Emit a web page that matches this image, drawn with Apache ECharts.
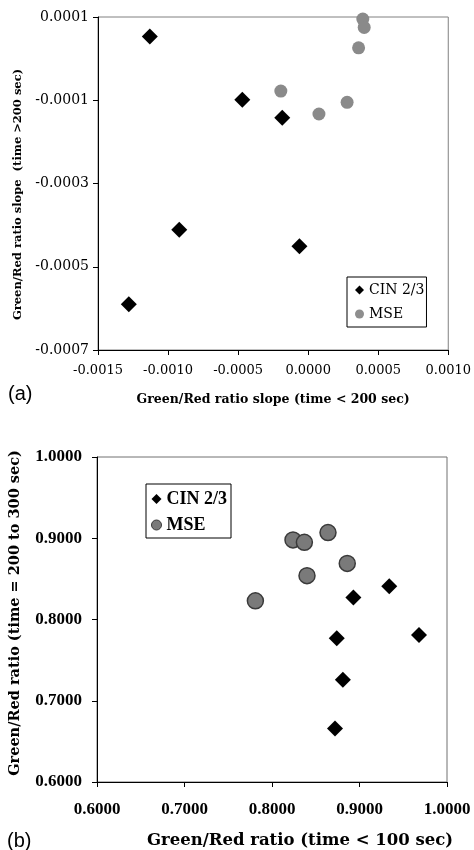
<!DOCTYPE html>
<html>
<head>
<meta charset="utf-8">
<script src="https://cdn.jsdelivr.net/npm/echarts@6/dist/echarts.min.js"></script>
<style>
  html, body { margin: 0; padding: 0; background: #fff; }
  #main { width: 474px; height: 850px; }
</style>
</head>
<body>
<div id="main"></div>
<script>
// panel (a): slopes
const cinA_x = [-0.00113, -0.00047, -0.000185, -0.00092, -0.000062, -0.00128];
const cinA_y = [0.000053, -0.000099, -0.000142, -0.000411, -0.000451, -0.00059];
const mseA_x = [0.00039, 0.0004, 0.00036, -0.000195, 0.000077, 0.000278];
const mseA_y = [0.000095, 0.000075, 0.000026, -0.000078, -0.000133, -0.000105];
const ticksA_x = [-0.0015, -0.0010, -0.0005, 0.0000, 0.0005, 0.0010];
const ticksA_y = [-0.0007, -0.0005, -0.0003, -0.0001, 0.0001];

// panel (b): ratios
const cinB_x = [0.934, 0.893, 0.874, 0.968, 0.881, 0.872];
const cinB_y = [0.841, 0.827, 0.777, 0.781, 0.726, 0.666];
const mseB_x = [0.781, 0.824, 0.837, 0.864, 0.886, 0.840];
const mseB_y = [0.823, 0.898, 0.895, 0.907, 0.869, 0.854];
const ticksB_x = [0.6, 0.7, 0.8, 0.9, 1.0];
const ticksB_y = [0.6, 0.7, 0.8, 0.9, 1.0];

const zip = (xs, ys) => xs.map((x, i) => [x, ys[i]]);
const fmt4 = v => Number(v).toFixed(4);

const chart = echarts.init(document.getElementById('main'), null, { renderer: 'canvas' });

const axisBase = {
  type: 'value',
  nameLocation: 'middle',
  splitLine: { show: false },
  axisLine: { onZero: false, lineStyle: { color: '#000', width: 1 } },
  axisTick: { length: 5, lineStyle: { color: '#000' } }
};

const option = {
  backgroundColor: '#fff',
  animation: false,
  grid: [
    { left: 98, top: 17, width: 353, height: 333, show: true, borderColor: '#808080', borderWidth: 1 },
    { left: 97, top: 457, width: 350, height: 326, show: true, borderColor: '#707070', borderWidth: 1 }
  ],
  xAxis: [
    {
      ...axisBase, gridIndex: 0, min: -0.0015, max: 0.0010,
      name: 'Green/Red ratio slope (time < 200 sec)', nameGap: 43,
      nameTextStyle: { fontFamily: 'DejaVu Serif', fontWeight: 'bold', fontSize: 12.5, color: '#000' },
      axisTick: { ...axisBase.axisTick, customValues: ticksA_x },
      axisLabel: { customValues: ticksA_x, formatter: fmt4, margin: 14, fontFamily: 'DejaVu Serif', fontSize: 13, color: '#000' }
    },
    {
      ...axisBase, gridIndex: 1, min: 0.6, max: 1.0,
      name: 'Green/Red ratio (time < 100 sec)', nameGap: 50,
      nameTextStyle: { fontFamily: 'DejaVu Serif', fontWeight: 'bold', fontSize: 16.5, color: '#000', padding: [0, 0, 0, 56] },
      axisTick: { ...axisBase.axisTick, customValues: ticksB_x },
      axisLabel: { customValues: ticksB_x, formatter: fmt4, margin: 19, fontFamily: 'Liberation Serif', fontWeight: 'bold', fontSize: 17, color: '#000' }
    }
  ],
  yAxis: [
    {
      ...axisBase, gridIndex: 0, min: -0.0007, max: 0.0001,
      name: 'Green/Red ratio slope  (time >200 sec)', nameGap: 74,
      nameTextStyle: { fontFamily: 'DejaVu Serif', fontWeight: 'bold', fontSize: 11.5, color: '#000', padding: [0, 22, 0, 0] },
      axisTick: { ...axisBase.axisTick, customValues: ticksA_y },
      axisLabel: { customValues: ticksA_y, formatter: fmt4, margin: 9, fontFamily: 'DejaVu Serif', fontSize: 14, color: '#000' }
    },
    {
      ...axisBase, gridIndex: 1, min: 0.6, max: 1.0,
      name: 'Green/Red ratio (time = 200 to 300 sec)', nameGap: 74,
      nameTextStyle: { fontFamily: 'DejaVu Serif', fontWeight: 'bold', fontSize: 14.5, color: '#000', padding: [0, 0, 0, 13] },
      axisTick: { ...axisBase.axisTick, customValues: ticksB_y },
      axisLabel: { customValues: ticksB_y, formatter: fmt4, margin: 15, fontFamily: 'Liberation Serif', fontWeight: 'bold', fontSize: 17, color: '#000' }
    }
  ],
  legend: [
    {
      orient: 'vertical', left: 347, top: 277,
      padding: [6, 2, 6, 8], itemGap: 10, itemWidth: 9, itemHeight: 9,
      borderColor: '#000', borderWidth: 1,
      textStyle: { fontFamily: 'DejaVu Serif', fontSize: 14, color: '#000' },
      data: [
        { name: 'CIN 2/3', icon: 'diamond', itemStyle: { color: '#000', opacity: 1 } },
        { name: 'MSE', icon: 'circle', itemStyle: { color: '#8e8e8e', borderWidth: 0, opacity: 1 } }
      ],
      selectedMode: false
    },
    {
      orient: 'vertical', left: 146, top: 484,
      padding: [6, 4, 4, 5], itemGap: 8, itemWidth: 10, itemHeight: 10,
      borderColor: '#000', borderWidth: 1,
      textStyle: { fontFamily: 'Liberation Serif', fontWeight: 'bold', fontSize: 18, color: '#000' },
      data: [
        { name: 'CIN 2/3', icon: 'diamond', itemStyle: { color: '#000', opacity: 1 } },
        { name: 'MSE', icon: 'circle', itemStyle: { color: '#7a7a7a', borderColor: '#3a3a3a', borderWidth: 1, opacity: 1 } }
      ],
      selectedMode: false
    }
  ],
  graphic: [
    { type: 'text', left: 8, top: 384, style: { text: '(a)', font: '20px "Liberation Sans"', fill: '#000' } },
    { type: 'text', left: 7, top: 831, style: { text: '(b)', font: '20px "Liberation Sans"', fill: '#000' } }
  ],
  series: [
    {
      name: 'CIN 2/3', type: 'scatter', xAxisIndex: 0, yAxisIndex: 0,
      symbol: 'diamond', symbolSize: 16, itemStyle: { color: '#000', opacity: 1 },
      data: zip(cinA_x, cinA_y)
    },
    {
      name: 'MSE', type: 'scatter', xAxisIndex: 0, yAxisIndex: 0,
      symbol: 'circle', symbolSize: 13, itemStyle: { color: '#8a8a8a', opacity: 1 },
      data: zip(mseA_x, mseA_y)
    },
    {
      name: 'CIN 2/3', type: 'scatter', xAxisIndex: 1, yAxisIndex: 1,
      symbol: 'diamond', symbolSize: 16, itemStyle: { color: '#000', opacity: 1 },
      data: zip(cinB_x, cinB_y)
    },
    {
      name: 'MSE', type: 'scatter', xAxisIndex: 1, yAxisIndex: 1,
      symbol: 'circle', symbolSize: 16, itemStyle: { color: '#7a7a7a', borderColor: '#3a3a3a', borderWidth: 1.5, opacity: 1 },
      data: zip(mseB_x, mseB_y)
    }
  ]
};

chart.setOption(option);
</script>
</body>
</html>
